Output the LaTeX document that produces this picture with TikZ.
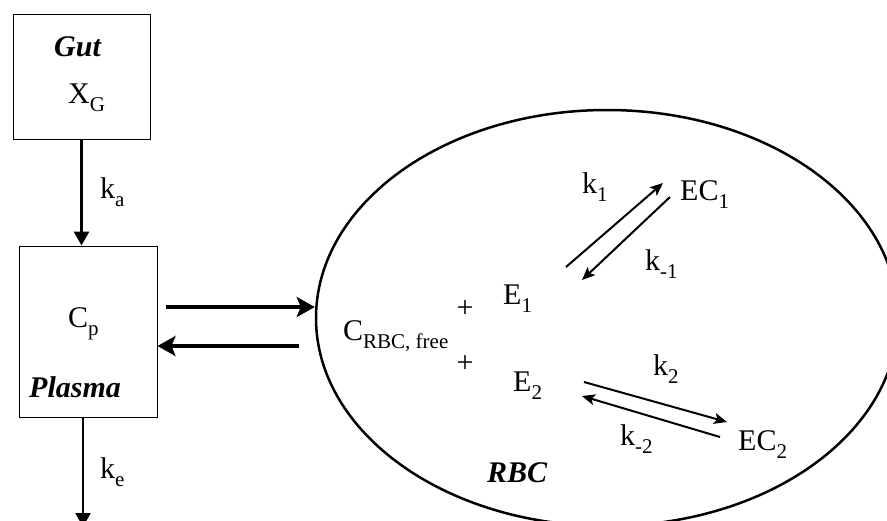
\documentclass[tikz,border=0pt]{standalone}
\usepackage{fontspec}
\setmainfont{Liberation Serif}
\usetikzlibrary{shapes.geometric,arrows.meta}

% lowered subscript in a smaller size
\newcommand{\lowsub}[1]{\raisebox{-8pt}{\fontsize{21}{21}\selectfont #1}}

\tikzset{
  lbl/.style={inner sep=0pt, anchor=base west, font=\fontsize{30}{36}\selectfont},
  ttl/.style={lbl, font=\fontsize{30}{36}\selectfont\bfseries\itshape},
  compartment/.style={draw, line width=1pt, inner sep=0pt},
  flowarrow/.style={-{Triangle[length=14pt,width=15pt]}, line width=3pt},
  elimarrow/.style={-{Triangle[length=14pt,width=15pt]}, line width=2pt},
  transarrow/.style={-{Stealth[length=18pt,width=20pt,inset=4pt]}, line width=4pt},
  bindarrow/.style={-{Stealth[length=13pt,width=11pt,inset=3pt]}, line width=2pt},
}

\begin{document}
\begin{tikzpicture}[x=1pt, y=-1pt]
  \useasboundingbox (0,0) rectangle (887,520);

  % compartments
  \node[compartment, minimum width=137pt, minimum height=125pt] (gut) at (81.5,76.5) {};
  \node[compartment, minimum width=138pt, minimum height=171pt] (plasma) at (88,331.5) {};
  \node[draw, ellipse, line width=2.5pt, inner sep=0pt,
        minimum width=582pt, minimum height=416pt] (rbc) at (607,318) {};

  % compartment labels
  \node[ttl] (gutlbl) at (54,56) {Gut};
  \node[lbl] (xg) at (68,103) {X\lowsub{G}};
  \node[lbl] (cp) at (68,327) {C\lowsub{p}};
  \node[ttl] (plasmalbl) at (29,397) {Plasma};
  \node[ttl] (rbclbl) at (487,482) {RBC};

  % absorption and elimination
  \draw[flowarrow] (gut.south) -- (gut.south |- plasma.north);
  \node[lbl] (ka) at (100,198) {k\lowsub{a}};
  \coordinate (out) at (83,527);
  \draw[elimarrow] (plasma.south -| out) -- (out);
  \node[lbl] (ke) at (100,478) {k\lowsub{e}};

  % exchange between plasma and red blood cells
  \coordinate (inA) at (166,307);
  \coordinate (inB) at (rbc.west |- inA);
  \coordinate (outA) at (299,346);
  \coordinate (outB) at (plasma.east |- outA);
  \draw[transarrow] (inA) -- (inB);
  \draw[transarrow] (outA) -- (outB);

  % species inside the red blood cell
  \node[lbl] (cfree) at (343,340) {C\lowsub{RBC, free}};
  \node[inner sep=0pt, font=\fontsize{30}{36}\selectfont] (plus1) at (465,309) {+};
  \node[inner sep=0pt, font=\fontsize{30}{36}\selectfont] (plus2) at (465,364) {+};
  \node[lbl] (e1) at (503,304) {E\lowsub{1}};
  \node[lbl] (e2) at (513,391) {E\lowsub{2}};
  \node[lbl] (ec1) at (680,200) {EC\lowsub{1}};
  \node[lbl] (ec2) at (738,450) {EC\lowsub{2}};

  % binding equilibria
  \coordinate (b1s) at (566,267);
  \coordinate (b1e) at (663,183);
  \coordinate (u1s) at (670,197);
  \coordinate (u1e) at (582,280);
  \draw[bindarrow] (b1s) -- (b1e);
  \draw[bindarrow] (u1s) -- (u1e);
  \node[lbl] (k1) at (582,193) {k\lowsub{1}};
  \node[lbl] (km1) at (645,270) {k\lowsub{-1}};

  \coordinate (b2s) at (584,382);
  \coordinate (b2e) at (727,422);
  \coordinate (u2s) at (720,437);
  \coordinate (u2e) at (582,396);
  \draw[bindarrow] (b2s) -- (b2e);
  \draw[bindarrow] (u2s) -- (u2e);
  \node[lbl] (k2) at (653,375) {k\lowsub{2}};
  \node[lbl] (km2) at (620,445) {k\lowsub{-2}};
\end{tikzpicture}
\end{document}
